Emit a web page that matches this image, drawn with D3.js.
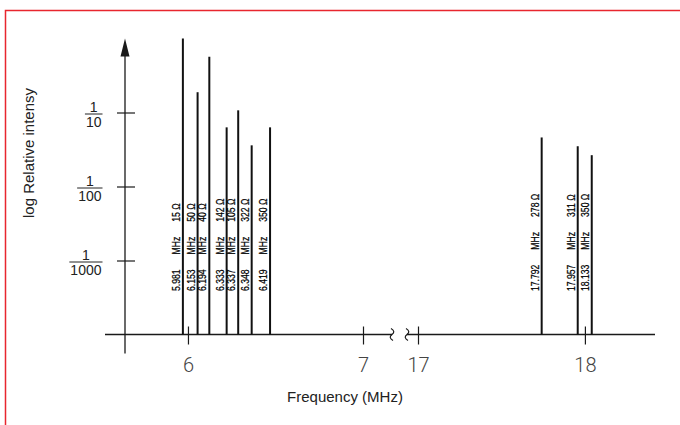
<!DOCTYPE html>
<html>
<head>
<meta charset="utf-8">
<script src="https://cdn.jsdelivr.net/npm/d3@7"></script>
<style>
  html, body { margin: 0; padding: 0; background: #fff; }
  svg { display: block; }
</style>
</head>
<body>
<svg id="chart" width="680" height="425"></svg>
<script>
// ---- data ----
const freqLabels = ["5.981", "6.153", "6.194", "6.333", "6.337", "6.348", "6.419", "17.792", "17.957", "18.133"];
const ohmLabels  = ["15", "50", "40", "142", "105", "322", "350", "278", "311", "350"];
// position of each line along the drawn (schematic) frequency axis, MHz
const axisPos    = [5.971, 6.055, 6.122, 6.221, 6.287, 6.364, 6.469, 17.741, 17.957, 18.041];
// relative intensity (log scale)
const intensity  = [1.0, 0.188, 0.566, 0.063, 0.107, 0.036, 0.063, 0.046, 0.035, 0.0265];
const xTicks     = [6, 7, 17, 18];
const xDomain    = [5.526, 7, 17, 18.42];   // broken axis: 7 ... 17
const yTicks     = [0.1, 0.01, 0.001];
const yTickDen   = ["10", "100", "1000"];
const yDomain    = [1e-4, 1];

// ---- layout ----
const svg = d3.select("#chart");
const axisX = 125;          // y-axis position
const left = 105, breakL = 363, breakR = 418, right = 655;
const ink = "#1a1a1a";

svg.append("rect")
  .attr("x", 5.5).attr("y", 10.5).attr("width", 1000).attr("height", 1000)
  .attr("fill", "none").attr("stroke", "#e8262e").attr("stroke-width", 1.5);

const x = d3.scaleLinear().domain(xDomain).range([left, breakL, breakR, right]);
const y = d3.scaleLog().domain(yDomain).range([334.5, 38.5]);
const base = y(yDomain[0]);

// ---- x axis (broken) ----
const xAxisG = svg.append("g").attr("transform", `translate(0,${base})`)
  .call(d3.axisBottom(x).tickValues(xTicks).tickSize(10).tickPadding(12).tickFormat(d3.format("d")));
xAxisG.select(".domain").remove();
xAxisG.selectAll(".tick line").attr("y1", -8).attr("stroke", ink).attr("stroke-width", 1.2);
xAxisG.selectAll(".tick text")
  .attr("font-family", "Roboto, 'Liberation Sans', sans-serif")
  .attr("font-weight", 300).attr("font-size", 20).attr("fill", "#444").attr("dy", "0.75em");

const bx1 = x(7) + 29, bx2 = x(17) - 11;
svg.append("line").attr("x1", left).attr("x2", bx1).attr("y1", base).attr("y2", base)
  .attr("stroke", ink).attr("stroke-width", 1.3);
svg.append("line").attr("x1", bx2).attr("x2", right).attr("y1", base).attr("y2", base)
  .attr("stroke", ink).attr("stroke-width", 1.3);
[bx1, bx2].forEach(cx => {
  const p = d3.path();
  p.moveTo(cx - 1, base - 6);
  p.quadraticCurveTo(cx + 4, base - 3, cx, base);
  p.quadraticCurveTo(cx - 4, base + 3, cx + 1, base + 6);
  svg.append("path").attr("d", p.toString()).attr("fill", "none")
    .attr("stroke", ink).attr("stroke-width", 1.2);
});

// ---- y axis with arrow ----
svg.append("line").attr("x1", axisX).attr("x2", axisX)
  .attr("y1", y(yDomain[1]) + 6).attr("y2", base + 19)
  .attr("stroke", ink).attr("stroke-width", 1.3);
svg.append("path")
  .attr("d", `M${axisX},${y(yDomain[1])} L${axisX + 4.5},${y(yDomain[1]) + 18} L${axisX - 4.5},${y(yDomain[1]) + 18} Z`)
  .attr("fill", ink);

const yAxisG = svg.append("g").attr("transform", `translate(${axisX},0)`)
  .call(d3.axisLeft(y).tickValues(yTicks).tickSize(8).tickFormat(""));
yAxisG.select(".domain").remove();
yAxisG.selectAll(".tick line").attr("x2", 10).attr("x1", -8).attr("stroke", ink).attr("stroke-width", 1.2);
yAxisG.selectAll(".tick").each(function (d, i) {
  const g = d3.select(this);
  const den = g.append("text").text(yTickDen[i])
    .attr("x", -23.5).attr("y", 14).attr("text-anchor", "end")
    .attr("font-family", "'Liberation Sans', Arial, sans-serif").attr("font-size", 14).attr("fill", "#222");
  const w = den.node().getComputedTextLength();
  g.append("line").attr("x1", -24.5 - w).attr("x2", -22.5).attr("y1", 1).attr("y2", 1)
    .attr("stroke", "#222").attr("stroke-width", 1);
  g.append("text").text("1")
    .attr("x", -23.5 - w / 2).attr("y", -1.5).attr("text-anchor", "middle")
    .attr("font-family", "'Liberation Sans', Arial, sans-serif").attr("font-size", 14).attr("fill", "#222");
});

// ---- lines (bars) ----
const data = axisPos.map((p, i) => ({ p, v: intensity[i], f: freqLabels[i], o: ohmLabels[i] }));
svg.append("g").selectAll("line").data(data).join("line")
  .attr("x1", d => x(d.p)).attr("x2", d => x(d.p))
  .attr("y1", base).attr("y2", d => y(d.v))
  .attr("stroke", "#111").attr("stroke-width", 2);

// ---- rotated labels ----
const lab = svg.append("g").selectAll("text").data(data).join("text")
  .attr("transform", d => `translate(${x(d.p) - 3},291) rotate(-90) scale(0.75,1)`)
  .attr("font-family", "'Liberation Sans', Arial, sans-serif")
  .attr("font-size", 11.5).attr("fill", "#000")
  .attr("stroke", "#000").attr("stroke-width", 0.25)
  .style("white-space", "pre");
lab.append("tspan").text(d => d.f);
lab.append("tspan").attr("dx", 20).text("MHz");
lab.append("tspan").attr("dx", 20).text(d => d.o + " Ω");

// ---- titles ----
svg.append("text").text("log Relative intensy")
  .attr("transform", "translate(34,153) rotate(-90)")
  .attr("text-anchor", "middle")
  .attr("font-family", "'Liberation Sans', Arial, sans-serif").attr("font-size", 15).attr("fill", "#222");
svg.append("text").text("Frequency (MHz)")
  .attr("x", 345).attr("y", 402).attr("text-anchor", "middle")
  .attr("font-family", "'Liberation Sans', Arial, sans-serif").attr("font-size", 15).attr("fill", "#222");
</script>
</body>
</html>
